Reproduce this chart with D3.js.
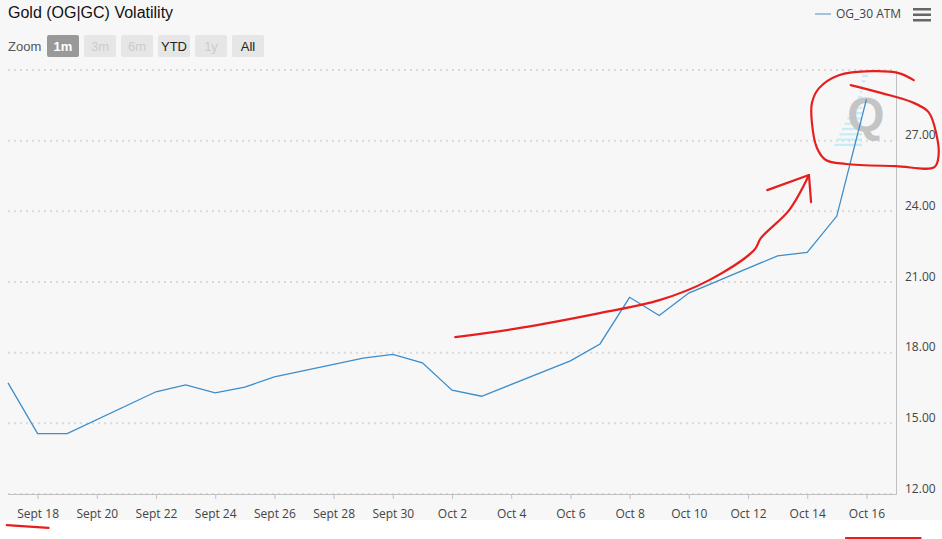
<!DOCTYPE html>
<html lang="en">
<head>
<meta charset="UTF-8">
<title>Gold (OG|GC) Volatility</title>
<style>
    body { margin: 0; background: #ffffff; }
    svg { display: block; }
    .axis-label { font-family: "Open Sans", "DejaVu Sans", sans-serif; font-size: 12px; fill: #444; }
</style>
</head>
<body>
<svg id="chart"></svg>
<script src="https://d3js.org/d3.v7.min.js"></script>
<script>
const dates = [
    "2014-09-17", "2014-09-18", "2014-09-19", "2014-09-22", "2014-09-23", "2014-09-24",
    "2014-09-25", "2014-09-26", "2014-09-29", "2014-09-30", "2014-10-01", "2014-10-02",
    "2014-10-03", "2014-10-06", "2014-10-07", "2014-10-08", "2014-10-09", "2014-10-10",
    "2014-10-13", "2014-10-14", "2014-10-15", "2014-10-16"
];
const og30atm = [
    16.72, 14.56, 14.56, 16.34, 16.63, 16.29,
    16.54, 16.97, 17.77, 17.93, 17.57, 16.41,
    16.15, 17.65, 18.37, 20.35, 19.58, 20.53,
    22.11, 22.26, 23.80, 28.75
];
const xTicks = ["2014-09-18", "2014-09-20", "2014-09-22", "2014-09-24", "2014-09-26", "2014-09-28",
    "2014-09-30", "2014-10-02", "2014-10-04", "2014-10-06", "2014-10-08", "2014-10-10",
    "2014-10-12", "2014-10-14", "2014-10-16"];
const xTickLabels = ["Sept 18", "Sept 20", "Sept 22", "Sept 24", "Sept 26", "Sept 28", "Sept 30",
    "Oct 2", "Oct 4", "Oct 6", "Oct 8", "Oct 10", "Oct 12", "Oct 14", "Oct 16"];
const yTicks = [12, 15, 18, 21, 24, 27, 30];
const zoomButtons = ["1m", "3m", "6m", "YTD", "1y", "All"];
const buttonState = ["selected", "disabled", "disabled", "normal", "disabled", "normal"];

// red hand drawn marks, in [days after Sept 18, value]
const arrowCurve = [[14.11, 18.66], [16.30, 19.05], [18.99, 19.68], [21.01, 20.23], [22.69, 21.08],
    [24.21, 22.36], [24.44, 22.87], [25.39, 24.05], [26.06, 25.54]];
const arrowHead = [[24.65, 24.90], [26.06, 25.54], [26.13, 24.39]];
const loop = [[27.47, 29.36], [28.52, 29.02], [29.53, 28.64], [30.10, 28.21], [30.37, 27.24],
    [30.44, 26.39], [30.30, 25.88], [28.99, 25.92], [27.31, 26.01], [26.63, 26.18], [26.33, 26.69],
    [26.16, 27.75], [26.16, 28.60], [26.40, 29.23], [27.07, 29.78], [28.18, 29.95], [29.09, 29.87],
    [29.60, 29.57]];
const underlineLeft = [[-1.04, 10.68], [0.37, 10.56]];
const underlineRight = [[27.31, 10.13], [29.83, 10.13]];

const width = 942;
const height = 539;
const parse = d3.timeParse("%Y-%m-%d");
const data = dates.map((d, i) => ({ date: parse(d), value: og30atm[i] }));

const x = d3.scaleTime()
    .domain([parse("2014-09-17"), parse("2014-10-17")])
    .range([8, 896]);
const y = d3.scaleLinear()
    .domain([12, 30])
    .range([494, 70]);

const svg = d3.select("#chart")
    .attr("width", width)
    .attr("height", height);

svg.append("rect")
    .attr("width", width)
    .attr("height", 520)
    .attr("fill", "#f7f7f7");

// title
svg.append("text")
    .attr("x", 8)
    .attr("y", 18)
    .attr("font-family", "'Liberation Sans', Arial, sans-serif")
    .attr("font-size", 16)
    .attr("fill", "#111")
    .text("Gold (OG|GC) Volatility");

// range selector
svg.append("text")
    .attr("x", 8)
    .attr("y", 51)
    .attr("font-family", "'Liberation Sans', Arial, sans-serif")
    .attr("font-size", 13)
    .attr("fill", "#555")
    .text("Zoom");

const btn = svg.append("g").selectAll("g")
    .data(zoomButtons)
    .join("g")
    .attr("transform", (d, i) => `translate(${47 + i * 37},35)`);
btn.append("rect")
    .attr("width", 32)
    .attr("height", 22)
    .attr("rx", 2)
    .attr("fill", (d, i) => buttonState[i] == "selected" ? "#999999" : "#e6e6e6");
btn.append("text")
    .attr("x", 16)
    .attr("y", 16)
    .attr("text-anchor", "middle")
    .attr("font-family", "'Liberation Sans', Arial, sans-serif")
    .attr("font-size", 13)
    .attr("font-weight", (d, i) => buttonState[i] == "selected" ? "bold" : "normal")
    .attr("fill", (d, i) => buttonState[i] == "selected" ? "#fff" : buttonState[i] == "disabled" ? "#cccccc" : "#222")
    .text(d => d);

// legend
svg.append("line")
    .attr("x1", 815).attr("x2", 831)
    .attr("y1", 14).attr("y2", 14)
    .attr("stroke", "#7fb3dc")
    .attr("stroke-width", 1.5);
svg.append("text")
    .attr("x", 836)
    .attr("y", 18)
    .attr("class", "axis-label")
    .style("font-size", "12px")
    .text("OG_30 ATM");

// menu icon
svg.append("g").selectAll("rect")
    .data([0, 1, 2])
    .join("rect")
    .attr("x", 913)
    .attr("y", d => 8 + d * 5.5)
    .attr("width", 18)
    .attr("height", 2.5)
    .attr("fill", "#666");

// grid
svg.append("g").selectAll("line")
    .data(yTicks)
    .join("line")
    .attr("x1", 8).attr("x2", 896)
    .attr("y1", d => y(d)).attr("y2", d => y(d))
    .attr("stroke", "#dadada")
    .attr("stroke-width", 2)
    .attr("stroke-dasharray", "2,4");

// axes
const xAxis = d3.axisBottom(x)
    .tickValues(xTicks.map(parse))
    .tickFormat((d, i) => xTickLabels[i])
    .tickSizeInner(5)
    .tickSizeOuter(0)
    .tickPadding(8);
const gx = svg.append("g")
    .attr("transform", `translate(0,${y(12)})`)
    .call(xAxis);
gx.select(".domain").attr("stroke", "#c0c0c0");
gx.selectAll(".tick line").attr("stroke", "#c0c0c0");
gx.selectAll(".tick text").attr("class", "axis-label").attr("dy", "0.9em");

const yAxis = d3.axisRight(y)
    .tickValues(yTicks.filter(d => d < 30))
    .tickFormat(d3.format(".2f"))
    .tickSize(0)
    .tickPadding(9);
const gy = svg.append("g")
    .attr("transform", `translate(896,0)`)
    .call(yAxis);
gy.select(".domain").attr("stroke", "#c0c0c0");
gy.selectAll(".tick text").attr("class", "axis-label").attr("dy", "-0.15em");

// watermark
const wm = svg.append("g");
d3.range(14).forEach(i => {
    const yy = 76 + i * 5.3;
    wm.append("line")
        .attr("x1", 868 - i * 2.6).attr("x2", 862)
        .attr("y1", yy).attr("y2", yy)
        .attr("stroke", "#c6ecf7")
        .attr("stroke-width", 2.2);
});
wm.append("text")
    .attr("x", 866)
    .attr("y", 131)
    .attr("text-anchor", "middle")
    .attr("font-family", "'Liberation Sans', Arial, sans-serif")
    .attr("font-weight", "bold")
    .attr("font-size", 48)
    .attr("fill", "#c4c4c4")
    .text("Q");

// series
const line = d3.line()
    .x(d => x(d.date))
    .y(d => y(d.value));
svg.append("path")
    .datum(data)
    .attr("fill", "none")
    .attr("stroke", "#3c8dcb")
    .attr("stroke-width", 1.3)
    .attr("d", line);

// red annotations
const base = parse("2014-09-18");
const ax = d => x(new Date(base.getTime() + d[0] * 864e5));
const ay = d => y(d[1]);
const redCurve = d3.line().x(ax).y(ay).curve(d3.curveCatmullRom);
const redStraight = d3.line().x(ax).y(ay);
const red = svg.append("g")
    .attr("fill", "none")
    .attr("stroke", "#e61e1e")
    .attr("stroke-width", 2.2)
    .attr("stroke-linecap", "round")
    .attr("stroke-linejoin", "round");
red.append("path").attr("d", redCurve(arrowCurve));
red.append("path").attr("d", redStraight(arrowHead));
red.append("path").attr("d", redCurve(loop));
red.append("path").attr("d", redStraight(underlineLeft));
red.append("path").attr("d", redStraight(underlineRight));
</script>
</body>
</html>
